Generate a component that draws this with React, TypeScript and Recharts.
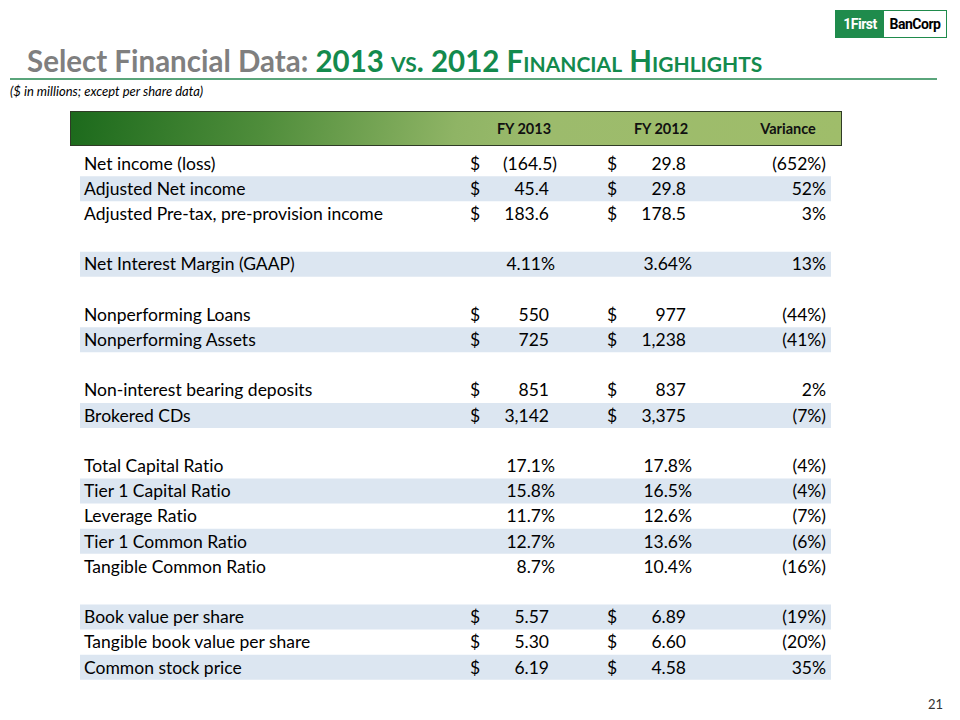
import React from 'react';
import { BarChart, Bar, XAxis, YAxis } from 'recharts';

// table rows, top to bottom ('' = spacer row)
const rowLabels = [
  'Net income (loss)',
  'Adjusted Net income',
  'Adjusted Pre-tax, pre-provision income',
  '',
  'Net Interest Margin (GAAP)',
  '',
  'Nonperforming Loans',
  'Nonperforming Assets',
  '',
  'Non-interest bearing deposits',
  'Brokered CDs',
  '',
  'Total Capital Ratio',
  'Tier 1 Capital Ratio',
  'Leverage Ratio',
  'Tier 1 Common Ratio',
  'Tangible Common Ratio',
  '',
  'Book value per share',
  'Tangible book value per share',
  'Common stock price',
];
const fy2013 = ['(164.5)', '45.4', '183.6', '', '4.11%', '', '550', '725', '', '851', '3,142', '', '17.1%', '15.8%', '11.7%', '12.7%', '8.7%', '', '5.57', '5.30', '6.19'];
const fy2012 = ['29.8', '29.8', '178.5', '', '3.64%', '', '977', '1,238', '', '837', '3,375', '', '17.8%', '16.5%', '12.6%', '13.6%', '10.4%', '', '6.89', '6.60', '4.58'];
const variance = ['(652%)', '52%', '3%', '', '13%', '', '(44%)', '(41%)', '', '2%', '(7%)', '', '(4%)', '(4%)', '(7%)', '(6%)', '(16%)', '', '(19%)', '(20%)', '35%'];
const hasDollar = [1, 1, 1, 0, 0, 0, 1, 1, 0, 1, 1, 0, 0, 0, 0, 0, 0, 0, 1, 1, 1];
const banded = [0, 1, 0, 0, 1, 0, 0, 1, 0, 0, 1, 0, 0, 1, 0, 1, 0, 0, 1, 0, 1];
const headers = ['FY 2013', 'FY 2012', 'Variance'];

const data = rowLabels.map((label, i) => ({ id: 'r' + i, label, band: banded[i] }));

const FONT = 'Lato, "Open Sans", sans-serif';
const TEXT_SIZE = 17.5;

// accounting-style alignment: ")" and "%" hang past the digit edge
function hang(v: string) {
  if (v.endsWith(')')) return 8;
  if (v.endsWith('%')) return 6;
  return 0;
}

function renderRow(props: any) {
  const { y, payload } = props;
  const i = parseInt(String(payload.value).slice(1), 10);
  if (!rowLabels[i]) return <g />;
  const common = { fontFamily: FONT, fontSize: TEXT_SIZE, fill: '#000', dy: '0.35em' };
  return (
    <g>
      <text x={84} y={y} {...common}>{rowLabels[i]}</text>
      {hasDollar[i] ? <text x={470} y={y} {...common}>$</text> : null}
      <text x={549 + hang(fy2013[i])} y={y} textAnchor="end" {...common}>{fy2013[i]}</text>
      {hasDollar[i] ? <text x={607} y={y} {...common}>$</text> : null}
      <text x={686 + hang(fy2012[i])} y={y} textAnchor="end" {...common}>{fy2012[i]}</text>
      <text x={826} y={y} textAnchor="end" {...common}>{variance[i]}</text>
    </g>
  );
}

export default function App() {
  return (
    <div style={{ position: 'absolute', left: 0, top: 0, width: 960, height: 720, background: '#fff', overflow: 'hidden', fontVariantLigatures: 'none' }}>
      {/* logo */}
      <div style={{ position: 'absolute', left: 835, top: 10, width: 110, height: 26, border: '1px solid #1f8b4c', display: 'flex', fontFamily: 'Roboto, sans-serif', fontWeight: 700, fontSize: 14 }}>
        <div style={{ background: '#1f8b4c', color: '#fff', width: 48, display: 'flex', alignItems: 'center', justifyContent: 'center', letterSpacing: -0.5 }}>1First</div>
        <div style={{ color: '#000', flex: 1, display: 'flex', alignItems: 'center', justifyContent: 'center', letterSpacing: -0.5 }}>BanCorp</div>
      </div>

      {/* title */}
      <div style={{ position: 'absolute', left: 27, top: 42, whiteSpace: 'nowrap', fontFamily: FONT, fontWeight: 700, fontSize: 29.5, lineHeight: '38px' }}>
        <span style={{ color: '#7f7f7f' }}>Select Financial Data: </span>
        <span style={{ color: '#138a4d' }}>2013 <span style={{ fontVariant: 'small-caps' }}>vs.</span> 2012 <span style={{ fontVariant: 'small-caps' }}>Financial Highlights</span></span>
      </div>
      <div style={{ position: 'absolute', left: 10, top: 78, width: 927, height: 2, background: '#5aa57b' }} />
      <div style={{ position: 'absolute', left: 10, top: 82, fontFamily: FONT, fontStyle: 'italic', fontSize: 13, lineHeight: '18px', color: '#000' }}>
        ($ in millions; except per share data)
      </div>

      {/* header bar */}
      <div style={{
        position: 'absolute', left: 70, top: 111, width: 770, height: 33,
        border: '1.5px solid #2f3b26',
        background: 'linear-gradient(100deg, #1c6a1c 0%, #4f8d3b 25%, #8fb465 50%, #9cbb6c 62%, #9fbd6a 100%)',
        fontFamily: FONT, fontWeight: 700, fontSize: 14.5, color: '#111',
      }}>
        {headers.map((h, i) => (
          <div key={h} style={{ position: 'absolute', top: 0, height: 33, lineHeight: '33px', left: [453, 590, 717][i] - 70, width: 140, textAlign: 'center' }}>{h}</div>
        ))}
      </div>

      {/* table body: rows placed by the category axis, bands drawn as bars */}
      <div style={{ position: 'absolute', left: 0, top: 0 }}>
        <BarChart
          width={960}
          height={720}
          data={data}
          layout="vertical"
          barCategoryGap={0}
          margin={{ top: 151, right: 129, bottom: 40, left: 20 }}
        >
          <XAxis type="number" domain={[0, 1]} hide />
          <YAxis type="category" dataKey="id" width={60} axisLine={false} tickLine={false} interval={0} tick={renderRow} />
          <Bar dataKey="band" fill="#dce6f1" isAnimationActive={false} />
        </BarChart>
      </div>

      <div style={{ position: 'absolute', left: 928, top: 696, fontFamily: FONT, fontSize: 13, color: '#333' }}>21</div>
    </div>
  );
}
